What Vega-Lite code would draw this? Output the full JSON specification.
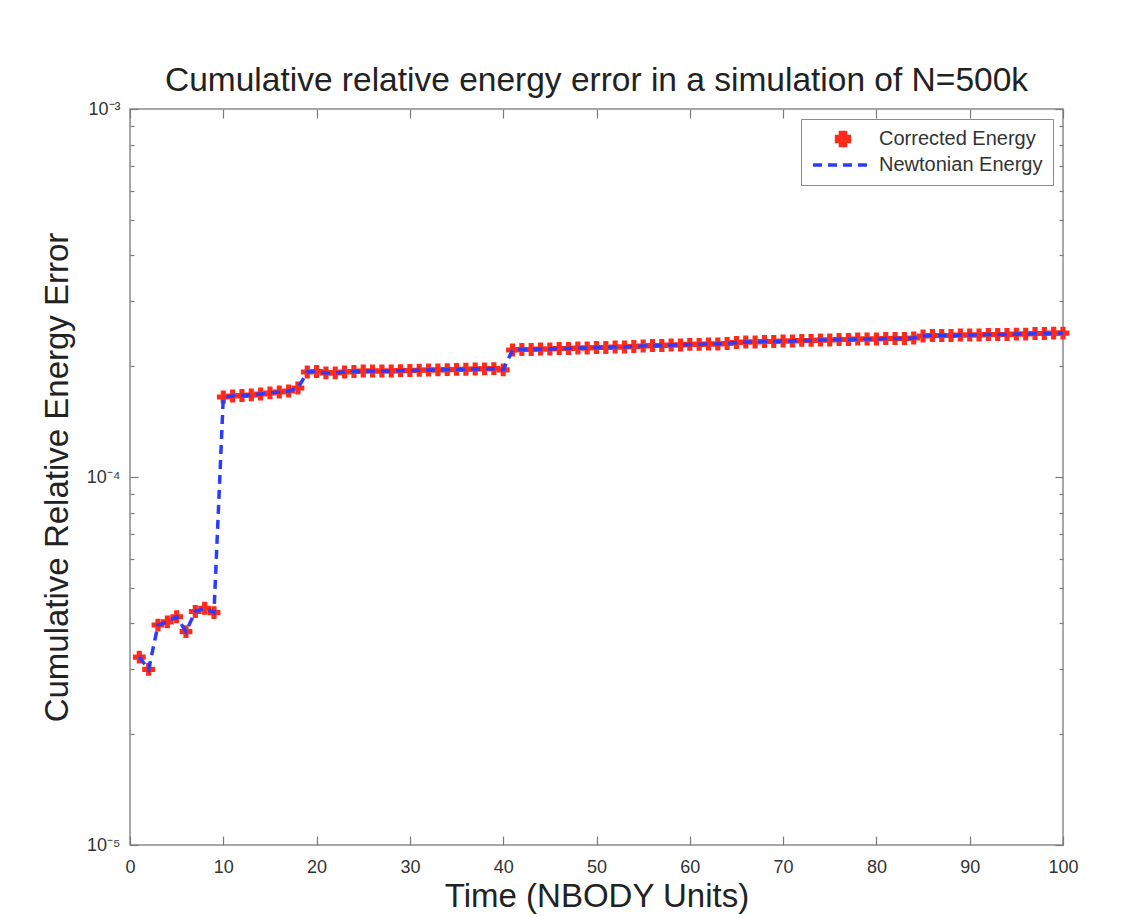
{
  "$schema": "https://vega.github.io/schema/vega-lite/v6.json",
  "width": 933,
  "height": 736,
  "autosize": {"type": "none"},
  "padding": {"left": 130, "top": 109, "right": 66, "bottom": 72},
  "background": "white",
  "title": {
    "text": "Cumulative relative energy error in a simulation of N=500k",
    "font": "Liberation Sans",
    "fontSize": 33.5,
    "fontWeight": "normal",
    "color": "#222222",
    "offset": 2
  },
  "config": {
    "view": {"stroke": "#8c8c8c", "strokeWidth": 1.5},
    "axis": {
      "domain": false,
      "grid": false,
      "tickColor": "#7a7a7a",
      "tickWidth": 1.2,
      "labelFont": "Liberation Sans",
      "labelFontSize": 18,
      "labelColor": "#333333",
      "titleFont": "Liberation Sans",
      "titleFontSize": 33,
      "titleFontWeight": "normal",
      "titleColor": "#222222"
    },
    "legend": {"symbolStrokeWidth": 3.5, "symbolOpacity": 1}
  },
  "data": {
    "values": [
      {"t": 1, "energy": 3.24e-5}, {"t": 2, "energy": 3.0e-5}, {"t": 3, "energy": 3.96e-5},
      {"t": 4, "energy": 4.04e-5}, {"t": 5, "energy": 4.17e-5}, {"t": 6, "energy": 3.8e-5},
      {"t": 7, "energy": 4.31e-5}, {"t": 8, "energy": 4.4e-5}, {"t": 9, "energy": 4.28e-5},
      {"t": 10, "energy": 1.65e-4}, {"t": 11, "energy": 1.66e-4}, {"t": 12, "energy": 1.665e-4},
      {"t": 13, "energy": 1.671e-4}, {"t": 14, "energy": 1.681e-4}, {"t": 15, "energy": 1.692e-4},
      {"t": 16, "energy": 1.702e-4}, {"t": 17, "energy": 1.713e-4}, {"t": 18, "energy": 1.745e-4},
      {"t": 19, "energy": 1.929e-4}, {"t": 20, "energy": 1.935e-4}, {"t": 21, "energy": 1.918e-4},
      {"t": 22, "energy": 1.918e-4}, {"t": 23, "energy": 1.929e-4}, {"t": 24, "energy": 1.935e-4},
      {"t": 25, "energy": 1.941e-4}, {"t": 26, "energy": 1.941e-4}, {"t": 27, "energy": 1.941e-4},
      {"t": 28, "energy": 1.941e-4}, {"t": 29, "energy": 1.945e-4}, {"t": 30, "energy": 1.947e-4},
      {"t": 31, "energy": 1.95e-4}, {"t": 32, "energy": 1.953e-4}, {"t": 33, "energy": 1.955e-4},
      {"t": 34, "energy": 1.958e-4}, {"t": 35, "energy": 1.96e-4}, {"t": 36, "energy": 1.963e-4},
      {"t": 37, "energy": 1.966e-4}, {"t": 38, "energy": 1.968e-4}, {"t": 39, "energy": 1.97e-4},
      {"t": 40, "energy": 1.955e-4}, {"t": 41, "energy": 2.214e-4}, {"t": 42, "energy": 2.221e-4},
      {"t": 43, "energy": 2.221e-4}, {"t": 44, "energy": 2.228e-4}, {"t": 45, "energy": 2.228e-4},
      {"t": 46, "energy": 2.235e-4}, {"t": 47, "energy": 2.235e-4}, {"t": 48, "energy": 2.242e-4},
      {"t": 49, "energy": 2.242e-4}, {"t": 50, "energy": 2.249e-4}, {"t": 51, "energy": 2.249e-4},
      {"t": 52, "energy": 2.256e-4}, {"t": 53, "energy": 2.256e-4}, {"t": 54, "energy": 2.263e-4},
      {"t": 55, "energy": 2.27e-4}, {"t": 56, "energy": 2.277e-4}, {"t": 57, "energy": 2.277e-4},
      {"t": 58, "energy": 2.284e-4}, {"t": 59, "energy": 2.284e-4}, {"t": 60, "energy": 2.292e-4},
      {"t": 61, "energy": 2.292e-4}, {"t": 62, "energy": 2.299e-4}, {"t": 63, "energy": 2.299e-4},
      {"t": 64, "energy": 2.306e-4}, {"t": 65, "energy": 2.32e-4}, {"t": 66, "energy": 2.327e-4},
      {"t": 67, "energy": 2.327e-4}, {"t": 68, "energy": 2.335e-4}, {"t": 69, "energy": 2.335e-4},
      {"t": 70, "energy": 2.342e-4}, {"t": 71, "energy": 2.342e-4}, {"t": 72, "energy": 2.35e-4},
      {"t": 73, "energy": 2.35e-4}, {"t": 74, "energy": 2.357e-4}, {"t": 75, "energy": 2.357e-4},
      {"t": 76, "energy": 2.364e-4}, {"t": 77, "energy": 2.364e-4}, {"t": 78, "energy": 2.371e-4},
      {"t": 79, "energy": 2.371e-4}, {"t": 80, "energy": 2.371e-4}, {"t": 81, "energy": 2.379e-4},
      {"t": 82, "energy": 2.379e-4}, {"t": 83, "energy": 2.379e-4}, {"t": 84, "energy": 2.386e-4},
      {"t": 85, "energy": 2.416e-4}, {"t": 86, "energy": 2.424e-4}, {"t": 87, "energy": 2.424e-4},
      {"t": 88, "energy": 2.424e-4}, {"t": 89, "energy": 2.431e-4}, {"t": 90, "energy": 2.431e-4},
      {"t": 91, "energy": 2.431e-4}, {"t": 92, "energy": 2.439e-4}, {"t": 93, "energy": 2.439e-4},
      {"t": 94, "energy": 2.439e-4}, {"t": 95, "energy": 2.446e-4}, {"t": 96, "energy": 2.446e-4},
      {"t": 97, "energy": 2.454e-4}, {"t": 98, "energy": 2.454e-4}, {"t": 99, "energy": 2.461e-4},
      {"t": 100, "energy": 2.461e-4}
    ]
  },
  "resolve": {"axis": {"x": "independent", "y": "independent"}},
  "layer": [
    {
      "mark": {"type": "point", "filled": true, "opacity": 1, "strokeWidth": 0},
      "encoding": {
        "x": {
          "field": "t", "type": "quantitative",
          "scale": {"domain": [0, 100], "nice": false, "zero": false},
          "axis": {
            "orient": "bottom",
            "values": [0, 10, 20, 30, 40, 50, 60, 70, 80, 90, 100],
            "tickSize": -9,
            "labelPadding": 22,
            "labelFlush": false,
            "title": "Time (NBODY Units)",
            "titlePadding": 4
          }
        },
        "y": {
          "field": "energy", "type": "quantitative",
          "scale": {"type": "log", "domain": [1e-5, 1e-3], "nice": false},
          "axis": {
            "orient": "left",
            "values": [1e-5, 2e-5, 3e-5, 4e-5, 5e-5, 6e-5, 7e-5, 8e-5, 9e-5, 1e-4, 2e-4, 3e-4, 4e-4, 5e-4, 6e-4, 7e-4, 8e-4, 9e-4, 1e-3],
            "labelExpr": "datum.value === 1e-5 ? '10⁻⁵' : datum.value === 1e-4 ? '10⁻⁴' : datum.value === 1e-3 ? '10⁻³' : ''",
            "tickSize": {"condition": {"test": "datum.value === 1e-5 || datum.value === 1e-4 || datum.value === 1e-3", "value": -8}, "value": -4},
            "labelPadding": 18,
            "labelFlush": false,
            "labelOverlap": false,
            "title": "Cumulative Relative Energy Error",
            "titlePadding": 12
          }
        },
        "color": {
          "datum": "Corrected Energy", "type": "nominal",
          "scale": {"domain": ["Corrected Energy", "Newtonian Energy"], "range": ["#ff2a1a", "#2b3cff"]},
          "legend": {
            "title": null,
            "orient": "top-right",
            "offset": 10,
            "padding": 10,
            "strokeColor": "#8c8c8c",
            "fillColor": "white",
            "labelFont": "Liberation Sans",
            "labelFontSize": 20,
            "labelColor": "#333333",
            "labelLimit": 400,
            "symbolOffset": 20,
            "labelOffset": 24,
            "rowPadding": -1
          }
        },
        "shape": {
          "datum": "Corrected Energy", "type": "nominal",
          "scale": {"domain": ["Corrected Energy", "Newtonian Energy"], "range": ["cross", "M-3,0H3"]},
          "legend": {"title": null}
        },
        "size": {
          "datum": "Corrected Energy", "type": "nominal",
          "scale": {"domain": ["Corrected Energy", "Newtonian Energy"], "range": [165, 400]},
          "legend": {"title": null}
        }
      }
    },
    {
      "mark": {"type": "line", "strokeWidth": 3.5},
      "encoding": {
        "x": {
          "field": "t", "type": "quantitative",
          "axis": {
            "orient": "top",
            "values": [0, 10, 20, 30, 40, 50, 60, 70, 80, 90, 100],
            "tickSize": -9,
            "labels": false,
            "title": null
          }
        },
        "y": {
          "field": "energy", "type": "quantitative",
          "axis": {
            "orient": "right",
            "values": [1e-5, 2e-5, 3e-5, 4e-5, 5e-5, 6e-5, 7e-5, 8e-5, 9e-5, 1e-4, 2e-4, 3e-4, 4e-4, 5e-4, 6e-4, 7e-4, 8e-4, 9e-4, 1e-3],
            "tickSize": {"condition": {"test": "datum.value === 1e-5 || datum.value === 1e-4 || datum.value === 1e-3", "value": -8}, "value": -4},
            "labels": false,
            "title": null
          }
        },
        "color": {"datum": "Newtonian Energy", "type": "nominal"},
        "strokeDash": {
          "datum": "Newtonian Energy", "type": "nominal",
          "scale": {"domain": ["Corrected Energy", "Newtonian Energy"], "range": [[1, 0], [9, 6]]},
          "legend": {"title": null}
        }
      }
    }
  ]
}
